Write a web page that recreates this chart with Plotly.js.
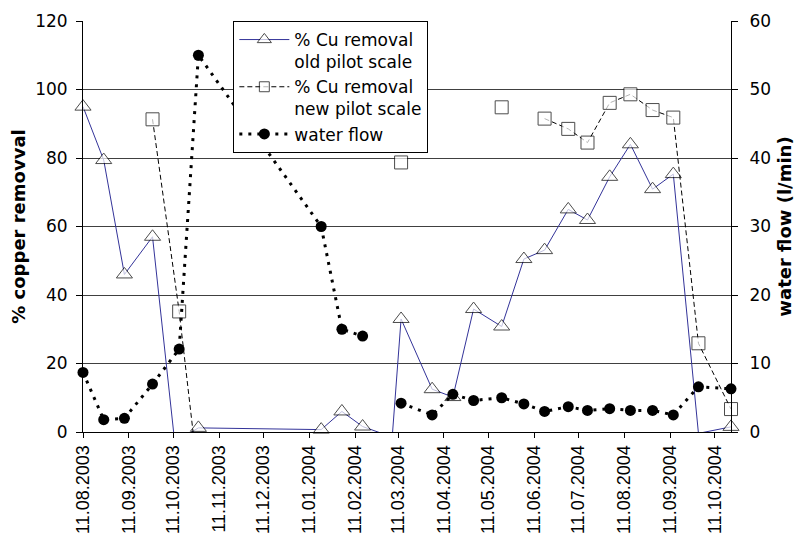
<!DOCTYPE html>
<html>
<head>
<meta charset="utf-8">
<script src="https://cdn.plot.ly/plotly-3.0.1.min.js"></script>
<style>html,body{margin:0;padding:0;background:#fff;}#chart{width:796px;height:545px;}</style>
</head>
<body>
<div id="chart"></div>
<script>
// % Cu removal, old pilot scale (values below 0 lie outside the axis and show no marker)
var oldDates = ['2003-08-11','2003-08-25','2003-09-08','2003-09-27','2003-10-12','2003-10-28',
  '2004-01-19','2004-02-02','2004-02-16','2004-03-07','2004-03-13','2004-04-03','2004-04-17',
  '2004-05-01','2004-05-20','2004-06-04','2004-06-18','2004-07-04','2004-07-17','2004-08-01',
  '2004-08-15','2004-08-30','2004-09-13','2004-09-30','2004-10-22'];
var oldRemoval = [95, 79.4, 46, 57, -3, 1.2,
  0.7, 6, 1.6, -1.5, 33, 12.5, 10.2,
  35.9, 30.8, 50.5, 53.1, 65, 61.9, 74.5,
  84, 70.9, 75.3, -0.4, 1.5];

// % Cu removal, new pilot scale
var newDates = ['2003-09-27','2003-10-15','2003-10-28','2004-01-19','2004-03-13','2004-04-03',
  '2004-05-20','2004-06-04','2004-06-18','2004-07-04','2004-07-17','2004-08-01','2004-08-15',
  '2004-08-30','2004-09-13','2004-09-30','2004-10-22'];
var newRemoval = [91.3, 35.2, -13.5, null, 78.7, null,
  94.8, null, 91.5, 88.5, 84.5, 96.1, 98.6,
  94, 91.8, 25.9, 6.7];

// water flow (l/min), secondary axis
var flowDates = ['2003-08-11','2003-08-25','2003-09-08','2003-09-27','2003-10-15','2003-10-28',
  '2004-01-19','2004-02-02','2004-02-16','2004-03-07','2004-03-13','2004-04-03','2004-04-17',
  '2004-05-01','2004-05-20','2004-06-04','2004-06-18','2004-07-04','2004-07-17','2004-08-01',
  '2004-08-15','2004-08-30','2004-09-13','2004-09-30','2004-10-22'];
var flowValues = [8.7, 1.8, 2.0, 7.0, 12.1, 55,
  30, 15, 14, null, 4.2, 2.5, 5.5,
  4.6, 5.0, 4.1, 3.0, 3.7, 3.15, 3.4,
  3.15, 3.15, 2.5, 6.6, 6.3];

var seriesNames = ['% Cu removal<br>old pilot scale', '% Cu removal<br>new pilot scale', 'water flow'];
var xRange = ['2003-08-11', '2004-10-22'];

function sizesFor(vals, s) {
  return vals.map(function (v) { return (v === null || v < 0) ? 0 : s; });
}

var traces = [
  {
    x: oldDates, y: oldRemoval, name: seriesNames[0], type: 'scatter', mode: 'lines+markers',
    line: {color: '#333399', width: 1},
    marker: {symbol: 'triangle-up', size: sizesFor(oldRemoval, 14), color: 'white', line: {color: 'black', width: 1}},
    cliponaxis: false, yaxis: 'y'
  },
  {
    x: newDates, y: newRemoval, name: seriesNames[1], type: 'scatter', mode: 'lines+markers',
    line: {color: 'black', width: 1, dash: '5px,3px'},
    marker: {symbol: 'square', size: sizesFor(newRemoval, 13), color: 'white', line: {color: 'black', width: 1}},
    cliponaxis: false, yaxis: 'y', connectgaps: false
  },
  {
    x: flowDates, y: flowValues, name: seriesNames[2], type: 'scatter', mode: 'lines+markers',
    line: {color: 'black', width: 3, dash: '3px,6px'},
    marker: {symbol: 'circle', size: 11, color: 'black'},
    cliponaxis: false, yaxis: 'y2', connectgaps: false
  }
];

var tickFont = {family: 'DejaVu Sans', size: 17, color: 'black'};
var titleFont = {family: 'DejaVu Sans', size: 18, color: 'black', weight: 700};

var layout = {
  width: 796, height: 545,
  margin: {l: 83, r: 65, t: 21, b: 113, pad: 0},
  paper_bgcolor: 'white', plot_bgcolor: 'white',
  showlegend: true,
  legend: {
    x: 0.232, y: 1.0, xanchor: 'left', yanchor: 'top',
    bgcolor: 'white', bordercolor: 'black', borderwidth: 1,
    font: {family: 'DejaVu Sans', size: 17, color: 'black'},
    itemwidth: 50, tracegroupgap: 0, valign: 'top'
  },
  xaxis: {
    type: 'date', range: xRange, tick0: xRange[0], dtick: 'M1', tickformat: '%d.%m.%Y',
    tickangle: -90, ticks: 'outside', ticklen: 5, tickcolor: 'black', tickwidth: 1,
    showline: true, linecolor: 'black', linewidth: 1, showgrid: false, zeroline: false,
    tickfont: {family: 'Liberation Sans, Arial', size: 18, color: 'black'}
  },
  yaxis: {
    range: [0, 120], dtick: 20, ticks: 'outside', ticklen: 6, tickcolor: 'black',
    showline: true, linecolor: 'black', linewidth: 1,
    showgrid: true, gridcolor: '#404040', gridwidth: 1, zeroline: false,
    tickfont: tickFont, ticklabelstandoff: 5,
    title: {text: '% copper removval', font: titleFont, standoff: 4}
  },
  yaxis2: {
    overlaying: 'y', side: 'right', range: [0, 60], dtick: 10,
    ticks: 'outside', ticklen: 6, tickcolor: 'black',
    showline: true, linecolor: 'black', linewidth: 1, showgrid: false, zeroline: false,
    tickfont: tickFont, ticklabelstandoff: 8,
    title: {text: 'water flow (l/min)', font: titleFont, standoff: 8}
  }
};

Plotly.newPlot('chart', traces, layout, {displayModeBar: false, staticPlot: true});
</script>
</body>
</html>
